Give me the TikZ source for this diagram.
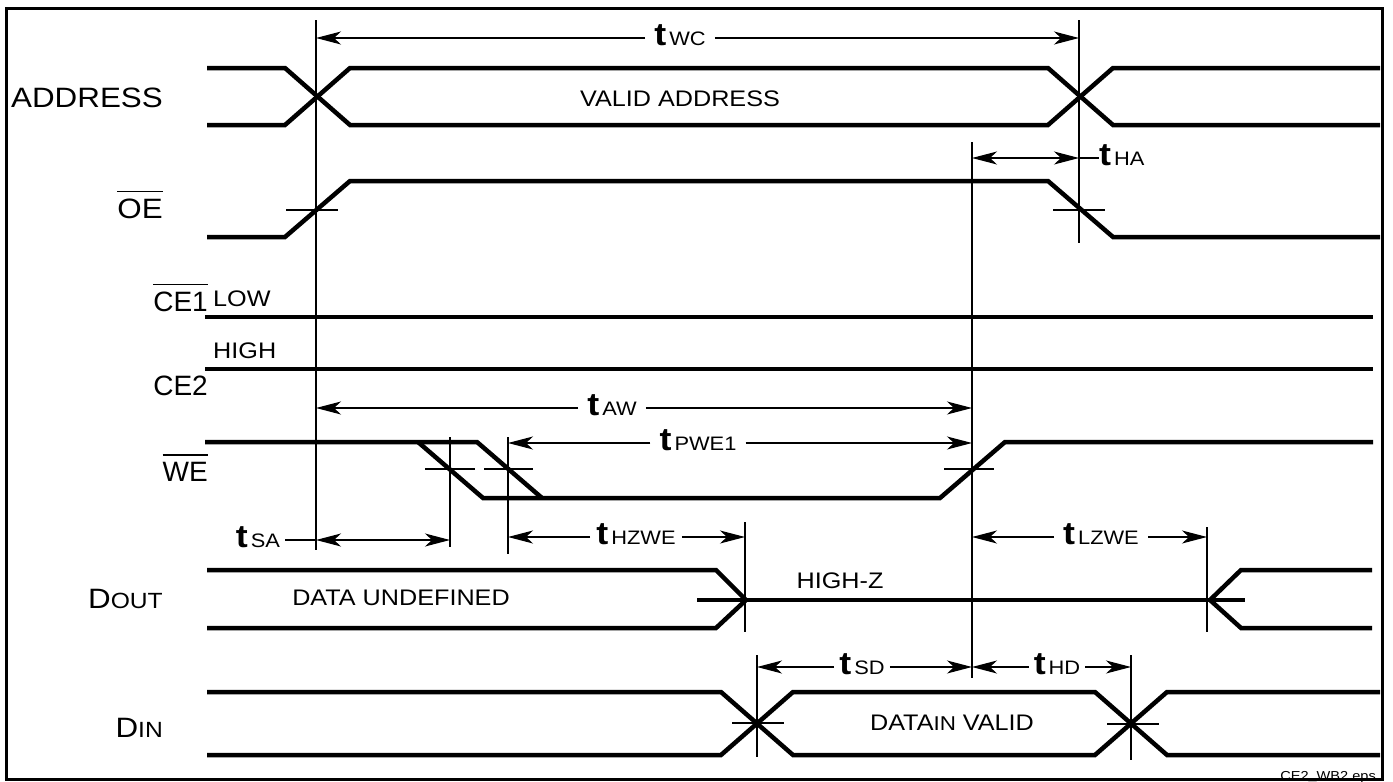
\documentclass[tikz,border=0pt]{standalone}
\usepackage{fontspec}
\setmainfont{Liberation Sans}[FakeStretch=1.12]
\newfontfamily\narrowsans{Liberation Sans}
\usetikzlibrary{arrows.meta}
\tikzset{
  signal/.style={line width=4.5pt},
  guide/.style={line width=1.2pt},
  dim/.style={-{Stealth[length=25pt, width=13pt, inset=7pt]}, line width=1.2pt},
  dim both/.style={{Stealth[length=25pt, width=13pt, inset=7pt]}-{Stealth[length=25pt, width=13pt, inset=7pt]}, line width=1.2pt},
  tlabel/.style={inner sep=0pt, inner xsep=9pt, text height=22pt, text depth=8pt},
  sig name/.style={anchor=base east, inner sep=0pt, font=\fontsize{28}{28}\selectfont},
  state/.style={anchor=base, inner sep=0pt, font=\fontsize{22.5}{23}\selectfont},
}
% timing parameter: bold t with its name set beside it
\newcommand{\tlab}[1]{{\fontsize{32}{32}\selectfont\bfseries t}\kern3pt{\fontsize{19.5}{20}\selectfont #1}}
% active-low signal names
\newcommand{\nbar}[1]{\vbox{\hrule height 1.3pt\kern 6pt\hbox{#1}}}
\newcommand{\smc}[2]{#1{\fontsize{22}{22}\selectfont #2}}

\begin{document}
\begin{tikzpicture}[x=1pt, y=-1pt]
  \useasboundingbox (0,0) rectangle (1393,782);

  % Signal names
  \node[sig name] (address) at (163,107) {ADDRESS};
  \node[sig name] (oe) at (163,218) {\nbar{OE}};
  \node[sig name] (ce1) at (208,311) {\narrowsans\nbar{CE1}};
  \node[sig name] (ce2) at (208,395) {\narrowsans CE2};
  \node[sig name] (we) at (208,481) {\narrowsans\nbar{WE}};
  \node[sig name] (dout) at (163,608) {\smc{D}{OUT}};
  \node[sig name] (din) at (163,737) {\smc{D}{IN}};

  % Waveforms
  \draw[signal] (207,68) -- (285,68) -- (350,125) -- (1048,125) -- (1113,68) -- (1380,68);
  \draw[signal] (207,125) -- (285,125) -- (350,68) -- (1048,68) -- (1113,125) -- (1380,125);
  \draw[signal] (207,237) -- (285,237) -- (350,181) -- (1048,181) -- (1113,237) -- (1380,237);
  \draw[signal] (205,317) -- (1373,317);
  \draw[signal] (205,369) -- (1373,369);
  \draw[signal] (205,442) -- (477,442) -- (542,498);
  \draw[signal] (418,442) -- (483,498) -- (940,498) -- (1005,442) -- (1373,442);
  \draw[signal] (207,570) -- (716,570) -- (746,600) -- (716,628) -- (207,628);
  \draw[signal] (697,600) -- (1245,600);
  \draw[signal] (1372,570) -- (1241,570) -- (1210,600) -- (1241,628) -- (1372,628);
  \draw[signal] (207,692) -- (721,692) -- (793,755) -- (1095,755) -- (1167,692) -- (1380,692);
  \draw[signal] (207,755) -- (721,755) -- (793,692) -- (1095,692) -- (1167,755) -- (1380,755);

  % States
  \node[state] (valid addr) at (680,106) {VALID ADDRESS};
  \node[state, anchor=base west] (low) at (213,306) {LOW};
  \node[state, anchor=base west] (high) at (213,358) {HIGH};
  \node[state] (undef) at (401,605) {DATA UNDEFINED};
  \node[state] (highz) at (840,588) {HIGH-Z};
  \node[state] (din valid) at (952,730) {DATA{\fontsize{20}{20}\selectfont IN} VALID};

  % Reference lines
  \draw[guide] (316,20) -- (316,550);
  \draw[guide] (1079,20) -- (1079,243);
  \draw[guide] (972,142) -- (972,678);
  \draw[guide] (450,437) -- (450,547);
  \draw[guide] (508,437) -- (508,554);
  \draw[guide] (745,522) -- (745,632);
  \draw[guide] (1207,527) -- (1207,632);
  \draw[guide] (757,655) -- (757,757);
  \draw[guide] (1131,655) -- (1131,760);

  % Threshold ticks
  \draw[guide] (286,210) -- (338,210);
  \draw[guide] (1053,210) -- (1105,210);
  \draw[guide] (425,469) -- (475,469);
  \draw[guide] (484,469) -- (533,469);
  \draw[guide] (944,469) -- (994,469);
  \draw[guide] (732,723) -- (784,723);
  \draw[guide] (1107,724) -- (1159,724);

  % Timing end points
  \coordinate (wc-l) at (316,38);   \coordinate (wc-r) at (1079,38);
  \coordinate (ha-l) at (972,158);  \coordinate (ha-r) at (1079,158);
  \coordinate (aw-l) at (316,408);  \coordinate (aw-r) at (972,408);
  \coordinate (pw-l) at (508,443);  \coordinate (pw-r) at (972,443);
  \coordinate (sa-l) at (316,540);  \coordinate (sa-r) at (450,540);
  \coordinate (hz-l) at (508,537);  \coordinate (hz-r) at (745,537);
  \coordinate (lz-l) at (972,537);  \coordinate (lz-r) at (1207,537);
  \coordinate (sd-l) at (757,667);  \coordinate (sd-r) at (972,667);
  \coordinate (hd-l) at (972,667);  \coordinate (hd-r) at (1131,667);

  % Timing labels
  \node[tlabel] (twc) at (680,38) {\tlab{WC}};
  \node[tlabel, anchor=west, inner xsep=0pt] (tha) at (1099,158) {\tlab{HA}};
  \node[tlabel] (taw) at (612,408) {\tlab{AW}};
  \node[tlabel] (tpwe) at (698,443) {\tlab{PWE1}};
  \node[tlabel, inner xsep=5pt] (tsa) at (258,540) {\tlab{SA}};
  \node[tlabel, inner xsep=6pt] (thzwe) at (636,537) {\tlab{HZWE}};
  \node[tlabel] (tlzwe) at (1101,537) {\tlab{LZWE}};
  \node[tlabel, inner xsep=5pt] (tsd) at (862,667) {\tlab{SD}};
  \node[tlabel, inner xsep=5pt] (thd) at (1057,667) {\tlab{HD}};

  % Timing arrows
  \draw[dim] (twc) -- (wc-l);  \draw[dim] (twc) -- (wc-r);
  \draw[dim both] (ha-l) -- (ha-r);  \draw[guide] (ha-r) -- (tha);
  \draw[dim] (taw) -- (aw-l);  \draw[dim] (taw) -- (aw-r);
  \draw[dim] (tpwe) -- (pw-l); \draw[dim] (tpwe) -- (pw-r);
  \draw[guide] (tsa) -- (sa-l);  \draw[dim both] (sa-l) -- (sa-r);
  \draw[dim] (thzwe) -- (hz-l); \draw[dim] (thzwe) -- (hz-r);
  \draw[dim] (tlzwe) -- (lz-l); \draw[dim] (tlzwe) -- (lz-r);
  \draw[dim] (tsd) -- (sd-l);  \draw[dim] (tsd) -- (sd-r);
  \draw[dim] (thd) -- (hd-l);  \draw[dim] (thd) -- (hd-r);

  % Frame
  \node[anchor=base east, inner sep=0pt, font=\fontsize{13}{13}\selectfont] (fname) at (1376,780) {CE2\_WB2.eps};
  \draw[line width=3pt] (6.5,8) rectangle (1382,779.5);
\end{tikzpicture}
\end{document}
